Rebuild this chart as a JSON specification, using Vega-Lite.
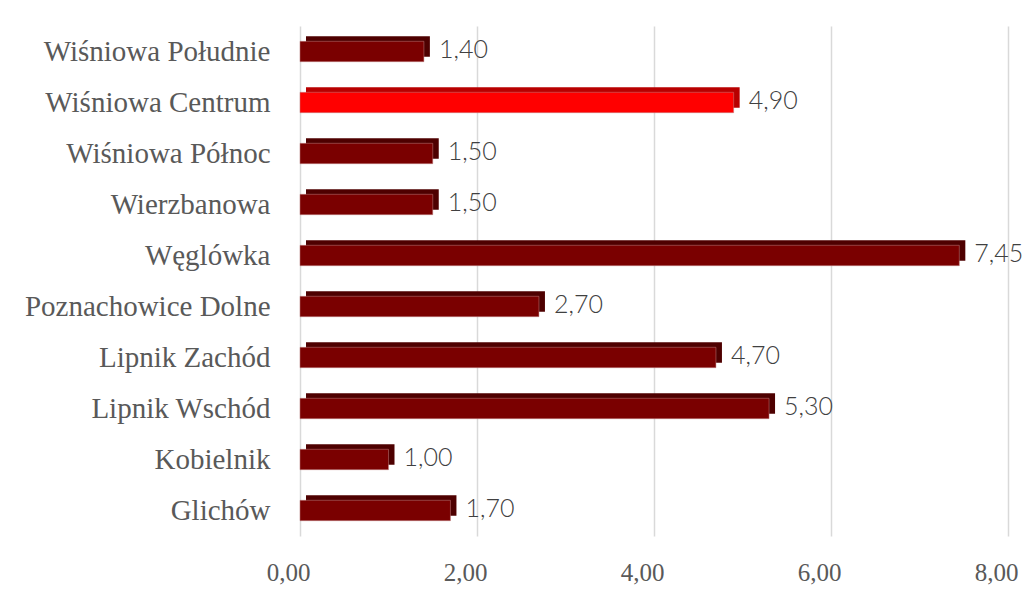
{
  "$schema": "https://vega.github.io/schema/vega-lite/v6.json",
  "autosize": "none",
  "width": 708,
  "height": 510,
  "padding": {"left": 300, "top": 26, "right": 18, "bottom": 54},
  "background": "white",
  "data": {"values": [
    {"name": "Wiśniowa Południe", "value": 1.40, "hl": "no"},
    {"name": "Wiśniowa Centrum", "value": 4.90, "hl": "yes"},
    {"name": "Wiśniowa Północ", "value": 1.50, "hl": "no"},
    {"name": "Wierzbanowa", "value": 1.50, "hl": "no"},
    {"name": "Węglówka", "value": 7.45, "hl": "no"},
    {"name": "Poznachowice Dolne", "value": 2.70, "hl": "no"},
    {"name": "Lipnik Zachód", "value": 4.70, "hl": "no"},
    {"name": "Lipnik Wschód", "value": 5.30, "hl": "no"},
    {"name": "Kobielnik", "value": 1.00, "hl": "no"},
    {"name": "Glichów", "value": 1.70, "hl": "no"}
  ]},
  "encoding": {
    "y": {"field": "name", "type": "nominal", "sort": null,
      "scale": {"paddingInner": 0.6, "paddingOuter": 0.3},
      "axis": {"title": null, "domain": false, "ticks": false, "labelPadding": 30, "labelLimit": 400,
        "labelFont": "Liberation Serif", "labelFontSize": 29, "labelColor": "#595959"}},
    "x": {"field": "value", "type": "quantitative",
      "scale": {"domain": [0, 8], "nice": false},
      "axis": {"title": null, "domain": false, "ticks": false, "values": [0, 2, 4, 6, 8],
        "labelExpr": "replace(format(datum.value, '.2f'), '.', ',')",
        "labelFont": "Liberation Serif", "labelFontSize": 25, "labelColor": "#595959",
        "labelPadding": 24, "labelOffset": -12, "labelFlush": false,
        "grid": true, "gridColor": "#D9D9D9", "gridWidth": 1.5}}
  },
  "layer": [
    {"mark": {"type": "bar", "xOffset": 6, "yOffset": -5},
     "encoding": {"color": {"condition": {"test": "datum.hl == 'yes'", "value": "#B80000"}, "value": "#4E0000"}}},
    {"mark": {"type": "bar", "stroke": "#C08080", "strokeWidth": 0.5},
     "encoding": {"color": {"condition": {"test": "datum.hl == 'yes'", "value": "#FF0000"}, "value": "#7A0000"}}},
    {"mark": {"type": "text", "align": "left", "baseline": "middle", "dx": 15, "dy": -2,
        "font": "Lato", "fontWeight": 300, "fontSize": 25, "color": "#404040"},
     "encoding": {"text": {"field": "value", "type": "quantitative", "format": ".2f"}}}
  ],
  "config": {"view": {"stroke": null}, "locale": {"number": {"decimal": ",", "thousands": " ", "grouping": [3], "currency": ["", " zł"]}}}
}
